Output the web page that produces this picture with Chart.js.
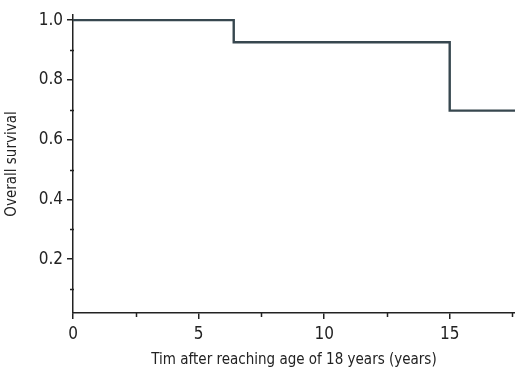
<!DOCTYPE html>
<html>
<head>
<meta charset="utf-8">
<script src="https://cdn.jsdelivr.net/npm/chart.js@4.4.1/dist/chart.umd.min.js"></script>
<style>
  html, body { margin: 0; padding: 0; background: #fff; }
  #wrap { width: 515px; height: 373px; position: relative; }
</style>
</head>
<body>
<div id="wrap"><canvas id="survivalChart"></canvas></div>
<script>
// Datos de la curva (Kaplan-Meier, escalones)
const stepTimes = [0, 6.4, 15, 17.6];
const survival = [1.0, 0.926, 0.697, 0.697];

// Ticks
const xMajorTicks = [0, 5, 10, 15];
const xMinorTicks = [2.5, 7.5, 12.5, 17.5];
const yMajorTicks = [0.2, 0.4, 0.6, 0.8, 1.0];
const yMinorTicks = [0.1, 0.3, 0.5, 0.7, 0.9];

const xTitle = 'Tim after reaching age of 18 years (years)';
const yTitle = 'Overall survival';

const FONT = '"Liberation Sans Narrow", "DejaVu Sans Condensed", sans-serif';
const AXIS_COLOR = '#222';

// Ticks menores dibujados con las escalas
const minorTicksPlugin = {
    id: 'minorTicks',
    afterDraw(chart) {
        const { ctx, scales } = chart;
        const xs = scales.x, ys = scales.y;
        ctx.save();
        ctx.strokeStyle = AXIS_COLOR;
        ctx.lineWidth = 1.5;
        ctx.beginPath();
        xMinorTicks.forEach(v => {
            const px = Math.round(xs.getPixelForValue(v)) + 0.5;
            ctx.moveTo(px, xs.top);
            ctx.lineTo(px, xs.top + 4);
        });
        yMinorTicks.forEach(v => {
            const py = Math.round(ys.getPixelForValue(v)) + 0.5;
            ctx.moveTo(ys.right - 3, py);
            ctx.lineTo(ys.right + 1, py);
        });
        ctx.stroke();
        ctx.restore();
    }
};

const ctx = document.getElementById('survivalChart').getContext('2d');
new Chart(ctx, {
    type: 'scatter',
    data: {
        datasets: [{
            data: stepTimes.map((t, i) => ({ x: t, y: survival[i] })),
            showLine: true,
            stepped: true,
            borderColor: '#37474f',
            borderWidth: 2.4,
            pointRadius: 0,
            fill: false
        }]
    },
    options: {
        responsive: true,
        maintainAspectRatio: false,
        animation: false,
        layout: { padding: { top: 15, right: 0, left: 0, bottom: 0 } },
        plugins: { legend: { display: false }, tooltip: { enabled: false } },
        scales: {
            x: {
                type: 'linear',
                min: 0,
                max: 17.6,
                afterBuildTicks: s => { s.ticks = xMajorTicks.map(v => ({ value: v })); },
                afterFit: s => { s.height = 60; },
                border: { color: AXIS_COLOR, width: 1.5 },
                grid: { drawOnChartArea: false, tickLength: 6, color: AXIS_COLOR, lineWidth: 1.5 },
                ticks: { color: '#222', font: { family: FONT, size: 17 }, padding: 5, maxRotation: 0 },
                title: { display: true, text: xTitle, color: '#222', font: { family: FONT, size: 15 }, padding: { top: 5 } }
            },
            y: {
                min: 0.02,
                max: 1.017,
                afterBuildTicks: s => { s.ticks = yMajorTicks.map(v => ({ value: v })); },
                afterFit: s => { s.width = 73; },
                border: { color: AXIS_COLOR, width: 1.5 },
                grid: { drawOnChartArea: false, tickLength: 6, color: AXIS_COLOR, lineWidth: 1.5 },
                ticks: { color: '#222', font: { family: FONT, size: 17 }, padding: 4, callback: v => v.toFixed(1) },
                title: { display: true, text: yTitle, color: '#222', font: { family: FONT, size: 15 }, padding: { top: 3, bottom: 4 } }
            }
        }
    },
    plugins: [minorTicksPlugin]
});
</script>
</body>
</html>
